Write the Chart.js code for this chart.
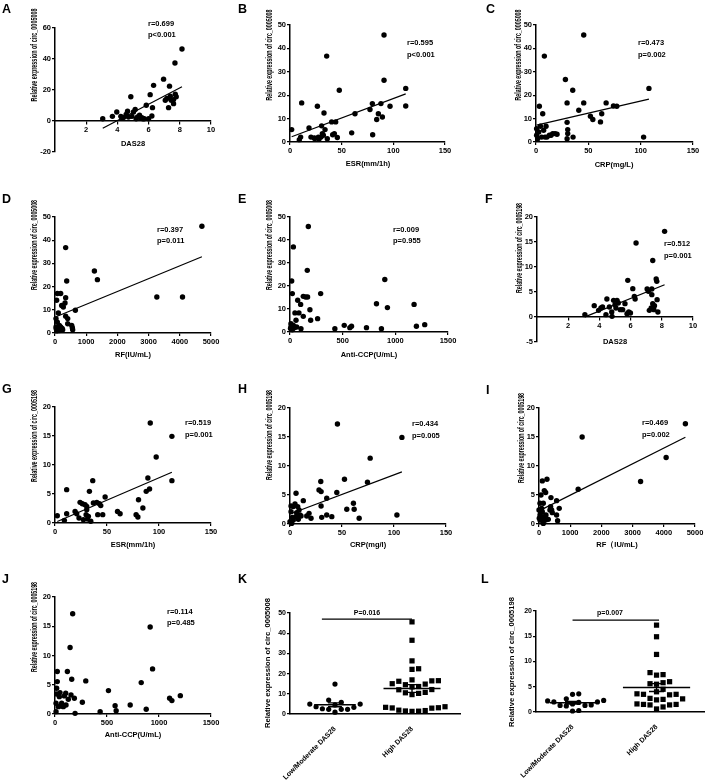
<!DOCTYPE html>
<html>
<head>
<meta charset="utf-8">
<script src="https://cdn.jsdelivr.net/npm/chart.js@4.4.0/dist/chart.umd.min.js"></script>
<style>
  html, body { margin: 0; padding: 0; background: #fff; }
  #fig { position: relative; width: 708px; height: 781px; overflow: hidden; }
  #fig canvas { position: absolute; }
</style>
</head>
<body>
<div id="fig"></div>
<script>
// ---- data ----
var dasA  = [3.06,3.68,3.96,4.22,4.28,4.39,4.56,4.65,4.71,4.86,4.93,5.03,5.14,5.2,5.29,5.42,5.46,5.57,5.63,5.72,5.85,6.0,6.1,6.21,6.25,6.32,6.96,7.07,7.17,7.28,7.34,7.39,7.45,7.6,7.6,7.69,7.71,7.77,8.14];
var circA = [1.5,3.0,5.8,3.0,2.2,2.2,4.3,6.3,2.6,15.6,3.0,5.8,7.4,1.5,2.6,3.7,2.2,2.2,1.5,1.5,10.2,1.5,17,3.2,8.6,23,27,13.4,14.5,8.6,22.5,16,13.4,13.8,11.2,37.4,17.3,15.6,46.5];

var esrB  = [1.6,9,10.3,11.3,18.4,20.3,23.5,24,26.5,27.4,28,30,30.6,31.3,32.3,32.9,33.9,35.5,36.1,40.3,41.3,42.9,44.2,45.8,47.7,59.7,62.9,77.4,79.7,80,83.9,85.5,88,89.4,91,91,96.8,112,112];
var circB = [5.3,1,2.1,16.7,6,2.1,1.7,1.5,15.3,2.1,1.2,2.1,6.9,3.6,2.9,12.4,5.3,36.7,1.4,8.6,3.1,3.6,8.6,1.9,22.1,3.9,12.1,13.9,16.4,3.1,9.6,12.1,16.4,10.7,45.7,26.4,15.3,22.9,15.4];

var crpC  = [0.6,0.6,1.6,2.6,3.2,4.2,5.4,6.4,7.3,8,8.6,9.6,10.5,12.8,14.4,16,18.2,20.1,28.1,29.7,29.7,30.3,30.3,29.7,35.1,35.4,40.9,45.6,45.6,52,54.3,67,61.6,62.8,74,77.2,102.8,107.9];
var circC = [2.9,5.7,1.4,4.3,15.3,6.7,2.1,12.1,5,36.7,2.1,6.7,2.1,2.9,2.9,3.6,3.6,3.3,26.7,16.7,8.4,5.3,3.6,1.4,22.1,2.1,13.6,45.7,16.7,11,9.6,16.7,8.6,12.1,15.4,15.3,2.1,22.9];

var rfD   = [32,32,53,53,75,75,107,139,160,182,182,214,246,267,321,342,342,375,342,407,407,535,556,567,653,1263,1359,3264,4087,4708,40,60,110,150,230];
var circD = [2.6,6.2,14.1,1.4,4.7,17,8.6,3.3,1.4,17,2.6,11.9,1.4,11.2,12.9,15.2,36.8,22.4,7.2,6.2,4,3.3,2.3,1.4,9.8,26.7,23,15.5,15.5,46,1.8,0.9,2.1,1.1,2.0];

var ccpE  = [9,9,16,22,32,22,32,41,47,57,63,73,85,101,104,126,126,148,167,164,174,189,196,262,291,426,515,568,584,726,821,868,900,925,1178,1200,1279,5,15,28];
var circE = [3.6,2.2,22.2,16.7,37,1,2.9,1.9,8.3,5.1,2.2,13.8,8.3,12,1.4,6.8,15.5,15.2,15.2,26.8,45.9,9.7,5.1,5.8,16.7,1.4,2.9,1.9,2.5,1.9,12.3,1.4,22.8,10.6,12,2.5,3.2,1.5,3.0,2.4];

var dasF  = [3.07,3.67,3.95,4.1,4.2,4.42,4.48,4.64,4.79,4.81,4.91,5,5.06,5.13,5.21,5.34,5.49,5.64,5.77,5.82,5.88,5.99,6.14,6.24,6.29,6.35,7.06,7.14,7.2,7.32,7.36,7.36,7.42,7.42,7.49,7.53,7.64,7.68,7.7,7.75,8.18];
var circF = [0.47,2.27,1.33,1.8,2,0.47,3.6,2,1,0.13,3.33,2.47,1.8,3.33,2.8,1.47,1.47,2.67,0.67,7.33,1,0.8,5.67,4.13,3.6,14.8,5.6,5.13,1.33,1.8,4.47,5.6,11.3,2.67,1.47,2.27,7.6,7.13,3.47,1,17.13];

var esrG  = [2.2,9,11.2,11.2,19.3,20.9,23.1,24.1,26.3,27.3,28.9,29.9,30.5,30.5,31.2,32.1,33.1,34.4,36.3,36.9,40.2,41.1,42.7,44,45.9,48.2,60.1,62.6,78,79.7,80.3,84.5,87.7,89.3,90.9,91.6,97.3,112.4,112.4];
var circG = [1.26,0.46,1.6,5.75,2,1.6,0.86,3.56,3.33,0.57,3.16,1.44,2.3,2.87,0.69,1.15,5.46,0.29,7.3,3.45,3.56,1.44,3.33,3,1.44,4.48,2,1.6,1.44,1.03,4.02,2.59,5.46,7.76,5.86,17.24,11.38,14.94,7.3];

var crpH  = [0,1,1,1.6,2.2,3.2,3.2,4.8,5.5,5.8,6.4,7.4,8,8.7,9.6,10.6,12.8,16.1,18.3,20.2,27.9,29.6,29.9,29.9,30.5,35.3,35.3,40.2,45,45.6,52.4,54.6,61,61.7,66.5,74.5,77.1,102.8,107.6];
var circH = [0.4,2.13,3.1,0.1,1.15,3,0.7,3.46,1.27,5.3,1.96,3,0.8,2.42,1.56,1.38,4.03,1.38,1.84,0.98,5.88,7.32,5.59,3.11,1.15,4.44,1.56,1.27,5.42,17.23,7.72,2.54,3.57,2.54,0.98,7.2,11.35,1.56,14.93];

var rfI   = [0,32,32,32,64,85,85,106,106,138,138,170,170,213,213,223,255,298,351,372,383,404,426,564,564,596,649,1256,1383,3256,4075,4692,10,50,120];
var circI = [2.42,3.57,1.56,0.7,5,2.7,1.27,7.43,2.13,0.1,3.57,5.76,1.27,0.7,5.42,1.56,7.72,0.8,2.42,3,4.55,2.42,1.96,4.03,1.56,0.58,2.7,5.99,14.99,7.32,11.47,17.29,1.0,2.0,0.5];

var ccpJ  = [10,10,16,16,22,22,32,42,48,58,64,80,90,103,106,119,128,145,154,161,170,186,193,263,296,434,514,578,588,723,829,877,915,938,1102,1124,1205];
var circJ = [0.4,1.83,4.4,3.43,7.26,5.54,1.26,2.97,3.66,1.37,1.83,1.26,3.09,3.54,1.54,7.26,2.51,11.37,3.26,5.94,17.14,2.69,0.11,2,5.66,0.4,4,1.43,0.57,1.54,5.37,0.8,14.86,7.71,2.69,2.29,3.14];

var groups = ["Low/Moderate DAS28", "High DAS28"];
var lowK  = [14.8,6.9,5.8,4.9,4.9,4.5,3.6,3.3,2.6,2.3,2.3,2.3,0.9];
var highK = [45.6,36.5,26.3,22.1,22.4,16.9,16.5,16.4,16.2,15.0,14.8,14.5,13.6,13.4,12.1,12.0,10.7,10.5,10.2,9.6,3.6,3.3,3.1,3.0,2.9,1.9,1.7,1.5,1.4,1.3];
var lowL  = [3.6,3.5,2.6,2.3,2.2,2.0,2.0,1.9,1.6,1.4,1.3,1.3,1.2,0.3,0.2];
var highL = [17.2,14.9,11.4,7.8,7.4,7.3,6.0,5.8,5.6,5.5,4.5,4.0,3.6,3.5,3.5,3.4,2.7,2.6,2.5,2.4,1.6,1.5,1.5,1.4,1.4,1.0,0.6];

var FONT = '"Liberation Sans", Arial, Helvetica, sans-serif';
Chart.defaults.font.family = FONT;
Chart.defaults.color = "#000";

var fig = document.getElementById("fig");

// least-squares fit over the data range
function fitLine(xs, ys) {
  var n = xs.length, mx = 0, my = 0, sxy = 0, sxx = 0, i;
  for (i = 0; i < n; i++) { mx += xs[i]; my += ys[i]; }
  mx /= n; my /= n;
  for (i = 0; i < n; i++) { sxy += (xs[i] - mx) * (ys[i] - my); sxx += (xs[i] - mx) * (xs[i] - mx); }
  var b = sxy / sxx, a = my - b * mx;
  var x0 = Math.min.apply(null, xs), x1 = Math.max.apply(null, xs);
  return [{ x: x0, y: a + b * x0 }, { x: x1, y: a + b * x1 }];
}

function meanSem(vals) {
  var n = vals.length, m = 0, s = 0;
  vals.forEach(function (v) { m += v; });
  m /= n;
  vals.forEach(function (v) { s += (v - m) * (v - m); });
  return [m, Math.sqrt(s / (n - 1)) / Math.sqrt(n)];
}

// simple beeswarm: horizontal offsets (in x units) so markers don't overlap
function swarm(vals, pxPerY, pxPerX, d) {
  var order = vals.map(function (v, i) { return i; }).sort(function (a, b) { return vals[a] - vals[b]; });
  var placed = [], off = [];
  order.forEach(function (i) {
    var py = vals[i] * pxPerY;
    for (var k = 0; k < 60; k++) {
      var ox = k === 0 ? 0 : (k % 2 ? 1 : -1) * Math.ceil(k / 2) * d;
      var ok = placed.every(function (q) {
        var dx = q[0] - ox, dy = q[1] - py;
        return dx * dx + dy * dy >= d * d * 0.98;
      });
      if (ok) { placed.push([ox, py]); off[i] = ox / pxPerX; break; }
    }
  });
  return off;
}

function textLayer(p) {
  return {
    id: "txt" + p.letter,
    afterDraw: function (chart) {
      var ctx = chart.ctx, ox = p.cell[0], oy = p.cell[1];
      ctx.save();
      ctx.fillStyle = "#000";
      ctx.font = "bold 12.5px " + FONT;
      ctx.textAlign = "left";
      ctx.textBaseline = "alphabetic";
      ctx.fillText(p.letter, p.letterPos[0] - ox, p.letterPos[1] - oy);

      ctx.textBaseline = "middle";
      if (p.xName) {
        ctx.font = "bold 7.5px " + FONT;
        ctx.textAlign = "center";
        ctx.fillText(p.xName, p.xTitle[0] - ox, p.xTitle[1] - oy);
      }
      if (p.notes) {
        ctx.font = "bold " + (p.noteSize || 7.5) + "px " + FONT;
        ctx.textAlign = p.noteAlign || "left";
        p.notes.forEach(function (t) { ctx.fillText(t[0], t[1] - ox, t[2] - oy); });
      }

      // rotated y title, squeezed to the measured length
      ctx.font = "bold " + p.yFont + "px " + FONT;
      var w = ctx.measureText(p.yName).width;
      ctx.translate(p.yTitle[0] - ox, p.yTitle[1] - oy);
      ctx.rotate(-Math.PI / 2);
      ctx.scale(p.yTitle[2] / w, 1);
      ctx.textAlign = "center";
      ctx.fillText(p.yName, 0, 0);
      ctx.restore();
    }
  };
}

function addCanvas(p) {
  var cv = document.createElement("canvas");
  cv.width = p.cell[2];
  cv.height = p.cell[3];
  cv.style.left = p.cell[0] + "px";
  cv.style.top = p.cell[1] + "px";
  cv.style.width = p.cell[2] + "px";
  cv.style.height = p.cell[3] + "px";
  fig.appendChild(cv);
  return cv;
}

// the y scale takes the whole left margin and the x scale the whole bottom margin,
// so the plot area lands where it is in the figure. An x axis placed at y=0 takes
// no layout room, so there the bottom margin goes into the padding instead.
function padding(p) {
  return {
    left: 0,
    bottom: p.xAtZero ? p.cell[1] + p.cell[3] - p.area[3] : 0,
    top: p.area[1] - p.cell[1],
    right: p.cell[0] + p.cell[2] - p.area[2]
  };
}
function yWidth(p) { return function (s) { s.width = p.area[0] - p.cell[0]; }; }
function xHeight(p) { return function (s) { s.height = p.xAtZero ? 0 : p.cell[1] + p.cell[3] - p.area[3]; }; }

var axisGrid = { display: true, drawOnChartArea: false, drawTicks: true, tickLength: 3, color: "#000", lineWidth: 1.2 };
var axisBorder = { display: true, color: "#000", width: 1.5 };

function scatterPanel(p) {
  var pts = p.x.map(function (v, i) { return { x: v, y: p.y[i] }; });
  var sets = [{
    data: pts,
    pointStyle: "circle",
    pointRadius: 2.7,
    pointBackgroundColor: "#000",
    pointBorderWidth: 0,
    clip: false
  }];
  if (p.fit) {
    sets.push({
      data: fitLine(p.x, p.y),
      showLine: true,
      borderColor: "#000",
      borderWidth: 1.2,
      pointRadius: 0,
      clip: false
    });
  }
  new Chart(addCanvas(p), {
    type: "scatter",
    data: { datasets: sets },
    options: {
      responsive: false,
      animation: false,
      events: [],
      layout: { padding: padding(p) },
      plugins: { legend: { display: false }, tooltip: { enabled: false } },
      scales: {
        x: {
          type: "linear",
          min: p.xMin, max: p.xMax,
          position: p.xAtZero ? { y: 0 } : "bottom",
          afterFit: xHeight(p),
          ticks: {
            stepSize: p.xStep, maxRotation: 0, autoSkip: false, padding: 1,
            font: { size: 7.5, weight: "bold" },
            callback: function (v) { return (p.xAtZero && v === 0) ? null : v; }
          },
          grid: axisGrid,
          border: axisBorder
        },
        y: {
          min: p.yMin, max: p.yMax,
          afterFit: yWidth(p),
          ticks: { stepSize: p.yStep, autoSkip: false, padding: 1, font: { size: 7.5, weight: "bold" } },
          grid: axisGrid,
          border: axisBorder
        }
      }
    },
    plugins: [textLayer(p)]
  });
}

function dotPanel(p) {
  var pxPerY = (p.area[3] - p.area[1]) / (p.yMax - p.yMin);
  var pxPerX = (p.area[2] - p.area[0]) / (p.xMax - p.xMin);
  var offLow = swarm(p.low, pxPerY, pxPerX, 6.3);
  var offHigh = swarm(p.high, pxPerY, pxPerX, 6.6);

  function bars(c, vals, half) {
    var ms = meanSem(vals), m = ms[0], s = ms[1], cap = 0.09;
    return {
      data: [
        { x: c - half, y: m }, { x: c + half, y: m }, { x: c, y: null },
        { x: c - cap, y: m + s }, { x: c + cap, y: m + s }, { x: c, y: null },
        { x: c, y: m + s }, { x: c, y: m - s }, { x: c, y: null },
        { x: c - cap, y: m - s }, { x: c + cap, y: m - s }
      ],
      showLine: true, spanGaps: false, borderColor: "#000", borderWidth: 1.4, pointRadius: 0, clip: false
    };
  }

  var sets = [
    {
      data: p.low.map(function (v, i) { return { x: 1 + offLow[i], y: v }; }),
      pointStyle: "circle", pointRadius: 2.6, pointBackgroundColor: "#000", pointBorderWidth: 0, clip: false
    },
    {
      data: p.high.map(function (v, i) { return { x: 2 + offHigh[i], y: v }; }),
      pointStyle: "rect", pointRadius: 3.7, pointBackgroundColor: "#000", pointBorderWidth: 0, clip: false
    },
    bars(1, p.low, p.halfLow),
    bars(2, p.high, p.halfHigh),
    {
      data: [{ x: p.barX[0], y: p.barY }, { x: p.barX[1], y: p.barY }],
      showLine: true, borderColor: "#000", borderWidth: 1.2, pointRadius: 0, clip: false
    }
  ];

  new Chart(addCanvas(p), {
    type: "scatter",
    data: { datasets: sets },
    options: {
      responsive: false,
      animation: false,
      events: [],
      layout: { padding: padding(p) },
      plugins: { legend: { display: false }, tooltip: { enabled: false } },
      scales: {
        x: {
          type: "linear",
          min: p.xMin, max: p.xMax,
          afterFit: xHeight(p),
          afterBuildTicks: function (s) { s.ticks = [{ value: 1 }, { value: 2 }]; },
          ticks: {
            autoSkip: false, minRotation: 45, maxRotation: 45, padding: 3,
            font: { size: 7, weight: "bold" },
            callback: function (v, i) { return groups[i]; }
          },
          grid: { display: false },
          border: axisBorder
        },
        y: {
          min: p.yMin, max: p.yMax,
          afterFit: yWidth(p),
          ticks: { stepSize: p.yStep, autoSkip: false, padding: 1, font: { size: 7, weight: "bold" } },
          grid: axisGrid,
          border: axisBorder
        }
      }
    },
    plugins: [textLayer(p)]
  });
}

var Y08 = "Relative expression of circ_0005008";
var Y98 = "Relative expression of circ_0005198";

scatterPanel({ letter: "A", x: dasA, y: circA, fit: true, xName: "DAS28", yName: Y08, yFont: 8.5,
  cell: [0, 0, 236, 190], area: [55, 28, 211, 152], xMin: 0, xMax: 10, xStep: 2, yMin: -20, yMax: 60, yStep: 20, xAtZero: true,
  letterPos: [2, 13], yTitle: [35, 55, 93], xTitle: [133, 144], notes: [["r=0.699", 148, 24], ["p<0.001", 148, 35]] });

scatterPanel({ letter: "B", x: esrB, y: circB, fit: true, xName: "ESR(mm/1h)", yName: Y08, yFont: 8.5,
  cell: [236, 0, 236, 190], area: [290, 25, 445, 142], xMin: 0, xMax: 150, xStep: 50, yMin: 0, yMax: 50, yStep: 10,
  letterPos: [238, 13], yTitle: [270, 55, 91], xTitle: [368, 164], notes: [["r=0.595", 407, 43], ["p<0.001", 407, 55]] });

scatterPanel({ letter: "C", x: crpC, y: circC, fit: true, xName: "CRP(mg/L)", yName: Y08, yFont: 8.5,
  cell: [472, 0, 236, 190], area: [536, 25, 693, 142], xMin: 0, xMax: 150, xStep: 50, yMin: 0, yMax: 50, yStep: 10,
  letterPos: [486, 13], yTitle: [519, 55, 91], xTitle: [614, 165], notes: [["r=0.473", 638, 43], ["p=0.002", 638, 55]] });

scatterPanel({ letter: "D", x: rfD, y: circD, fit: true, xName: "RF(IU/mL)", yName: Y08, yFont: 8.5,
  cell: [0, 190, 236, 190], area: [55, 217, 211, 333], xMin: 0, xMax: 5000, xStep: 1000, yMin: 0, yMax: 50, yStep: 10,
  letterPos: [2, 203], yTitle: [35, 245, 90], xTitle: [133, 355], notes: [["r=0.397", 157, 230], ["p=0.011", 157, 241]] });

scatterPanel({ letter: "E", x: ccpE, y: circE, fit: false, xName: "Anti-CCP(U/mL)", yName: Y08, yFont: 8.5,
  cell: [236, 190, 236, 190], area: [290, 217, 448, 332], xMin: 0, xMax: 1500, xStep: 500, yMin: 0, yMax: 50, yStep: 10,
  letterPos: [238, 203], yTitle: [270, 245, 90], xTitle: [369, 355], notes: [["r=0.009", 393, 230], ["p=0.955", 393, 241]] });

scatterPanel({ letter: "F", x: dasF, y: circF, fit: true, xName: "DAS28", yName: Y98, yFont: 8.5,
  cell: [472, 190, 236, 190], area: [537, 217, 693, 342], xMin: 0, xMax: 10, xStep: 2, yMin: -5, yMax: 20, yStep: 5, xAtZero: true,
  letterPos: [485, 203], yTitle: [520, 248, 90], xTitle: [615, 342], notes: [["r=0.512", 664, 244], ["p=0.001", 664, 256]] });

scatterPanel({ letter: "G", x: esrG, y: circG, fit: true, xName: "ESR(mm/1h)", yName: Y98, yFont: 8.5,
  cell: [0, 380, 236, 190], area: [55, 407, 211, 523], xMin: 0, xMax: 150, xStep: 50, yMin: 0, yMax: 20, yStep: 5,
  letterPos: [2, 393], yTitle: [35, 436, 92], xTitle: [133, 545], notes: [["r=0.519", 185, 423], ["p=0.001", 185, 435]] });

scatterPanel({ letter: "H", x: crpH, y: circH, fit: true, xName: "CRP(mg/l)", yName: Y98, yFont: 8.5,
  cell: [236, 380, 236, 190], area: [290, 408, 446, 524], xMin: 0, xMax: 150, xStep: 50, yMin: 0, yMax: 20, yStep: 5,
  letterPos: [238, 393], yTitle: [270, 435, 90], xTitle: [368, 545], notes: [["r=0.434", 412, 424], ["p=0.005", 412, 436]] });

scatterPanel({ letter: "I", x: rfI, y: circI, fit: true, xName: "RF\uFF08IU/mL)", yName: Y98, yFont: 8.5,
  cell: [472, 380, 236, 190], area: [539, 408, 695, 524], xMin: 0, xMax: 5000, xStep: 1000, yMin: 0, yMax: 20, yStep: 5,
  letterPos: [486, 394], yTitle: [522, 438, 90], xTitle: [617, 545], notes: [["r=0.469", 642, 423], ["p=0.002", 642, 435]] });

scatterPanel({ letter: "J", x: ccpJ, y: circJ, fit: false, xName: "Anti-CCP(U/mL)", yName: Y98, yFont: 8.5,
  cell: [0, 570, 236, 211], area: [55, 597, 211, 714], xMin: 0, xMax: 1500, xStep: 500, yMin: 0, yMax: 20, yStep: 5,
  letterPos: [2, 583], yTitle: [35, 627, 90], xTitle: [133, 735], notes: [["r=0.114", 167, 612], ["p=0.485", 167, 623]] });

dotPanel({ letter: "K", low: lowK, high: highK, yName: Y08, yFont: 7,
  cell: [236, 570, 236, 211], area: [290, 613, 460, 714], xMin: 0.416, xMax: 2.623, yMin: 0, yMax: 50, yStep: 10,
  halfLow: 0.27, halfHigh: 0.37, barX: [0.83, 2], barY: 47,
  letterPos: [238, 583], yTitle: [268, 663, 130], noteAlign: "center", noteSize: 7, notes: [["P=0.016", 367, 613]] });

dotPanel({ letter: "L", low: lowL, high: highL, yName: Y98, yFont: 7,
  cell: [472, 570, 236, 211], area: [536, 611, 706, 712], xMin: 0.565, xMax: 2.565, yMin: 0, yMax: 20, yStep: 5,
  halfLow: 0.27, halfHigh: 0.4, barX: [1, 2.03], barY: 18.2,
  letterPos: [481, 583], yTitle: [512, 662, 130], noteAlign: "center", noteSize: 7, notes: [["p=0.007", 610, 613]] });
</script>
</body>
</html>
